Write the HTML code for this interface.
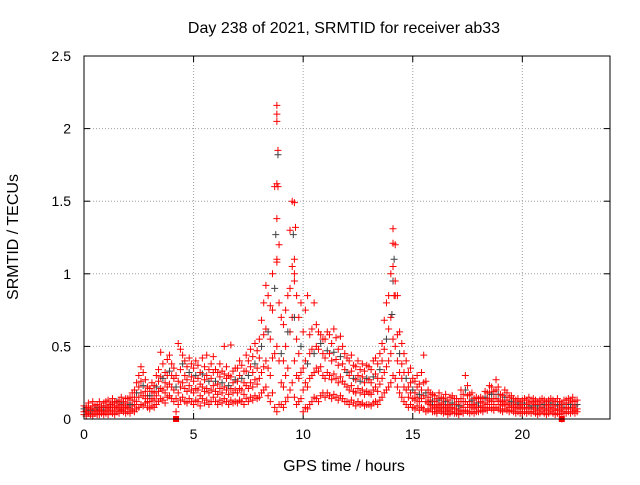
<!DOCTYPE html>
<html><head><meta charset="utf-8"><style>
body{margin:0;background:#fff;}
svg text{font-family:"Liberation Sans",sans-serif;font-size:14px;fill:#000;}
svg text.big{font-size:16px;}
</style></head><body>
<svg id="chart" width="640" height="480" xmlns="http://www.w3.org/2000/svg">
<text class="big" x="344" y="33" text-anchor="middle">Day 238 of 2021, SRMTID for receiver ab33</text>
<text class="big" transform="translate(18,237) rotate(-90)" text-anchor="middle">SRMTID / TECUs</text>
<text class="big" x="344" y="471" text-anchor="middle">GPS time / hours</text>
<g id="grid"></g>
<g id="ticks"></g>
<g id="marks"></g>
<rect x="84" y="56" width="526" height="363" fill="none" stroke="#000" stroke-width="1"/>
</svg>
<script>
const xTicks=[0,5,10,15,20];
const yTicks=[0,0.5,1,1.5,2,2.5];
const yTickLabels=["0","0.5","1","1.5","2","2.5"];
const tStart=0, tStep=0.1;
const lo=[.03,.02,.04,.03,.02,.04,.03,.03,.04,.03,.04,.03,.05,.04,.03,.05,.04,.06,.05,.04,.05,.04,.06,.05,.07,.08,.10,.09,.11,.08,.07,.09,.08,.10,.12,.14,.13,.11,.15,.16,.14,.12,.05,.10,.13,.15,.12,.11,.14,.12,.10,.13,.12,.09,.14,.11,.13,.10,.12,.15,.12,.10,.13,.11,.14,.12,.10,.13,.11,.12,.11,.13,.12,.10,.14,.12,.15,.13,.16,.14,.15,.18,.20,.22,.16,.12,.18,.08,.05,.10,.10,.08,.12,.15,.20,.25,.15,.10,.12,.14,.05,.08,.07,.10,.12,.15,.14,.12,.16,.18,.15,.18,.16,.14,.17,.15,.13,.16,.14,.12,.12,.10,.13,.11,.09,.12,.10,.11,.09,.10,.10,.09,.11,.12,.10,.13,.15,.18,.20,.22,.25,.30,.28,.22,.18,.15,.12,.10,.08,.10,.08,.07,.09,.06,.08,.07,.05,.06,.07,.05,.05,.04,.06,.05,.04,.05,.03,.04,.05,.04,.04,.03,.05,.04,.06,.05,.04,.05,.04,.05,.05,.06,.05,.07,.06,.08,.07,.06,.08,.07,.06,.05,.07,.06,.05,.06,.05,.04,.05,.04,.04,.05,.04,.05,.04,.05,.04,.03,.04,.05,.04,.03,.04,.05,.04,.03,.04,.03,.00,.04,.04,.05,.04,.05,.04,.05];
const m1=[.05,.06,.04,.07,.05,.06,.05,.07,.06,.05,.06,.07,.08,.06,.09,.07,.08,.06,.07,.08,.08,.07,.09,.10,.12,.15,.18,.16,.14,.12,.12,.14,.13,.16,.19,.21,.20,.18,.22,.24,.22,.20,.14,.18,.22,.25,.21,.19,.23,.20,.18,.21,.20,.16,.22,.19,.21,.18,.20,.23,.19,.17,.21,.18,.22,.20,.17,.21,.18,.20,.18,.21,.20,.17,.23,.21,.25,.22,.27,.24,.28,.32,.36,.40,.35,.30,.42,.45,.50,.40,.25,.22,.30,.35,.60,.70,.40,.30,.28,.32,.20,.25,.22,.28,.30,.32,.35,.33,.36,.30,.28,.32,.30,.27,.31,.28,.25,.29,.26,.24,.22,.20,.23,.19,.18,.21,.18,.20,.17,.19,.18,.17,.20,.22,.19,.24,.28,.32,.36,.40,.45,.55,.50,.40,.32,.28,.22,.20,.15,.18,.14,.13,.15,.12,.14,.16,.12,.11,.10,.09,.08,.07,.09,.08,.07,.08,.06,.07,.08,.07,.07,.06,.09,.08,.12,.10,.08,.09,.07,.08,.08,.09,.08,.11,.10,.13,.12,.10,.14,.12,.10,.09,.11,.10,.08,.09,.08,.07,.08,.07,.07,.08,.07,.08,.07,.08,.07,.06,.07,.08,.07,.06,.07,.08,.07,.06,.07,.06,.05,.07,.07,.08,.07,.08,.06,.07];
const m2=[.07,.05,.08,.06,.09,.07,.08,.06,.09,.08,.09,.08,.10,.11,.08,.12,.09,.10,.11,.09,.11,.10,.13,.15,.18,.22,.26,.23,.19,.16,.16,.19,.18,.22,.26,.29,.28,.25,.30,.33,.30,.28,.22,.26,.34,.38,.30,.27,.32,.29,.26,.30,.28,.24,.31,.27,.30,.26,.28,.32,.26,.24,.29,.25,.31,.28,.23,.29,.25,.27,.26,.30,.28,.25,.33,.30,.36,.32,.38,.35,.42,.50,.58,.62,.60,.55,.75,.90,1.10,.80,.45,.40,.50,.60,.90,1.05,.70,.55,.45,.50,.35,.40,.38,.45,.48,.45,.50,.48,.52,.45,.42,.47,.45,.40,.46,.41,.37,.43,.38,.34,.32,.30,.33,.28,.27,.30,.26,.29,.25,.28,.27,.25,.29,.31,.28,.34,.40,.48,.55,.62,.70,.95,.85,.58,.45,.38,.32,.28,.22,.25,.20,.18,.22,.17,.20,.25,.18,.15,.13,.12,.12,.10,.13,.11,.10,.12,.09,.10,.11,.10,.10,.09,.14,.12,.20,.16,.12,.13,.10,.11,.11,.12,.11,.15,.14,.18,.17,.14,.20,.17,.13,.12,.15,.13,.11,.12,.11,.10,.11,.09,.10,.11,.10,.11,.09,.11,.10,.09,.10,.11,.10,.09,.10,.11,.10,.09,.10,.09,.08,.10,.10,.11,.10,.12,.09,.10];
const hi=[.09,.08,.11,.07,.12,.09,.10,.12,.08,.11,.12,.13,.10,.14,.12,.11,.13,.15,.12,.14,.14,.15,.18,.20,.25,.30,.36,.32,.27,.22,.21,.25,.23,.30,.34,.46,.38,.32,.41,.44,.38,.35,.30,.52,.48,.44,.40,.36,.42,.38,.35,.40,.37,.32,.42,.36,.44,.34,.38,.43,.34,.32,.38,.33,.50,.36,.30,.51,.33,.35,.35,.40,.37,.33,.44,.40,.48,.43,.52,.47,.55,.68,.80,.92,.85,.78,1.00,1.60,2.16,1.20,.70,.65,.75,.85,1.30,1.50,.95,.85,.70,.80,.60,.75,.85,.58,.62,.80,.65,.60,.58,.55,.55,.60,.58,.52,.62,.56,.48,.57,.50,.45,.42,.40,.44,.37,.36,.40,.34,.38,.33,.37,.36,.34,.40,.42,.38,.45,.52,.68,.80,.85,1.00,1.31,1.20,.85,.60,.52,.45,.40,.32,.35,.28,.26,.30,.24,.32,.44,.26,.20,.18,.17,.16,.14,.18,.15,.14,.17,.13,.15,.16,.14,.14,.12,.20,.17,.30,.23,.17,.18,.14,.15,.14,.15,.14,.19,.18,.23,.22,.19,.27,.22,.17,.16,.20,.18,.15,.16,.14,.13,.14,.12,.13,.14,.13,.15,.12,.14,.13,.12,.13,.14,.13,.12,.13,.14,.13,.12,.14,.12,.11,.13,.13,.14,.13,.15,.12,.13];
const spikeT=[8.8,8.8,8.85,8.85,8.8,8.85,8.8,8.75,8.8,9.6,9.65,9.55,9.6,9.6,14.1,14.15,14.1,14.2,14.15,14.05];
const spikeV=[2.1,2.05,1.85,1.82,1.62,1.6,1.38,1.27,1.08,1.49,1.32,1.27,1.1,1.0,1.21,1.1,1.05,0.95,0.85,0.72];
const sqT=[4.2,21.8];
const sqV=[0,0];

const X0=84,X1=610,Y0=419,Y1=56,xMax=24,yMax=2.5;
const xs=v=>X0+(X1-X0)*v/xMax;
const ys=v=>Y0-(Y0-Y1)*v/yMax;
const NS="http://www.w3.org/2000/svg";
const grid=document.getElementById('grid'),ticks=document.getElementById('ticks'),marks=document.getElementById('marks');
function mk(tag,attrs,parent){const e=document.createElementNS(NS,tag);for(const k in attrs)e.setAttribute(k,attrs[k]);parent.appendChild(e);return e;}
xTicks.forEach(t=>{
  const x=xs(t);
  if(t>0){const g=mk('line',{x1:x,x2:x,y1:Y1,y2:Y0,stroke:'#a0a0a0','stroke-dasharray':'1,2'},grid);
  
  }
  mk('line',{x1:x,x2:x,y1:Y0,y2:Y0-6,stroke:'#000'},ticks);
  mk('line',{x1:x,x2:x,y1:Y1,y2:Y1+6,stroke:'#000'},ticks);
  const l=mk('text',{x:x,y:Y0+20,'text-anchor':'middle'},ticks);l.textContent=t;
  
  
});
yTicks.forEach((t,i)=>{
  const y=ys(t);
  if(t>0&&t<yMax){const g=mk('line',{x1:X0,x2:X1,y1:y,y2:y,stroke:'#a0a0a0','stroke-dasharray':'1,2'},grid);
  
  }
  mk('line',{x1:X0,x2:X0+6,y1:y,y2:y,stroke:'#000'},ticks);
  mk('line',{x1:X1,x2:X1-6,y1:y,y2:y,stroke:'#000'},ticks);
  const l=mk('text',{x:X0-13,y:y+5,'text-anchor':'end'},ticks);l.textContent=yTickLabels[i];
  
  
});
function plus(t,v,color){
  const x=xs(t),y=ys(v);
  const p=mk('path',{d:`M${x-3.5},${y}h7M${x},${y-3.5}v7`,stroke:color,'stroke-width':1,fill:'none'},marks);
  
  
}
[lo,m1,m2,hi].forEach((arr,s)=>{
  arr.forEach((v,i)=>{
    const t=tStart+i*tStep;
    plus(t,v,(s===2&&i%3===0)?'#404040':'#ff0000');
  });
});
spikeT.forEach((t,i)=>plus(t,spikeV[i],i%4===3?'#404040':'#ff0000'));
sqT.forEach((t,i)=>{
  const r=mk('rect',{x:xs(t)-3,y:ys(sqV[i])-3,width:6,height:6,fill:'#ff0000'},marks);
  
  
});
</script>
</body></html>
